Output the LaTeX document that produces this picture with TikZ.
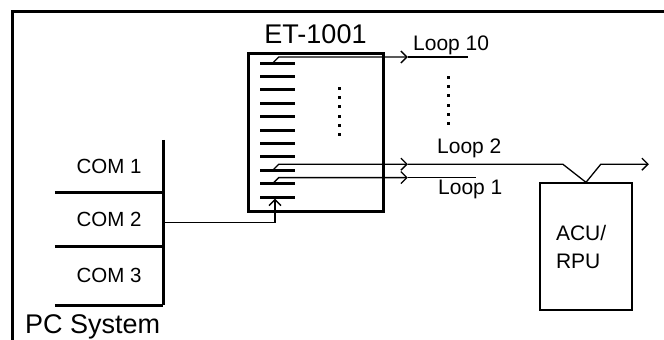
\documentclass[tikz,border=0pt]{standalone}
\usepackage{fontspec}
\setmainfont{Liberation Sans}
\usetikzlibrary{positioning, arrows.meta, calc}

\begin{document}
\begin{tikzpicture}[
    x=1pt, y=-1pt,
    >={Straight Barb[length=6pt, width=12pt]},
    % --- Line styles ---
    thk/.style={line width=3pt},
    thn/.style={line width=1.3pt},
    arr/.style={thn, ->},
    % --- Node styles ---
    bar/.style={fill=black, inner sep=0pt, minimum width=35pt, minimum height=3pt},
    comcell/.style={inner sep=0pt, minimum width=108pt, font=\fontsize{20.5}{24}\selectfont},
    lbl/.style={inner sep=0pt, font=\fontsize{21}{24}\selectfont},
    big/.style={inner sep=0pt, font=\fontsize{27}{30}\selectfont},
]

\useasboundingbox (0,0) rectangle (664,340);

% =============================================
% OUTER FRAME (top and left edges only)
% =============================================

\draw[thk] (12,340) -- (12,11) -- (664,11);

% =============================================
% PC SYSTEM
% =============================================

\node[comcell, minimum height=52pt] (com1) at (109,166) {COM 1};
\node[comcell, minimum height=54pt, below=0pt of com1] (com2) {COM 2};
\node[comcell, minimum height=58pt, below=0pt of com2] (com3) {COM 3};

\draw[thk] (com1.north east) -- (com3.south east);
\draw[thk] (com1.south west) -- (com1.south east);
\draw[thk] (com2.south west) -- (com2.south east);
\draw[thk] (com3.south west) -- (com3.south east);

\node[big, anchor=base west] (pc) at (25,333) {PC System};

% =============================================
% ET-1001 BOX
% =============================================

\node[draw, thk, minimum width=135pt, minimum height=158pt] (et) at (315.5,132) {};
\node[big, above=8pt of et] (etname) {ET-1001};

% Terminal bars
\foreach \i in {1,...,11}
    \node[bar] (bar\i) at (277.5, {63+13.4*(\i-1)}) {};

% Dots inside and outside the box
\foreach \k in {0,...,5} {
    \fill (338, {87+9.2*\k}) rectangle ++(3,3);
    \fill (447, {76+9.2*\k}) rectangle ++(3,3);
}

% =============================================
% ACU / RPU
% =============================================

\node[draw, thn, minimum width=92pt, minimum height=127pt, text width=60pt,
      align=left, font=\fontsize{21}{28}\selectfont] (acu) at (586,246.5) {ACU/\\RPU};

% =============================================
% LOOPS
% =============================================

\coordinate (l10mid) at ($(bar1.west)+(148,-6)$);
\coordinate (l10end) at ($(l10mid)+(60,0)$);
\coordinate (l2mid) at ($(bar9.west)+(148,-6)$);
\coordinate (l2bend) at ($(l2mid)+(155,0)$);
\coordinate (l2up) at ($(l2mid)+(193,0)$);
\coordinate (l2end) at ($(l2mid)+(241,0)$);
\coordinate (l1mid) at ($(bar10.west)+(148,-6)$);
\coordinate (l1end) at ($(l1mid)+(68,0)$);

% Loop 10
\draw[arr] ($(bar1.west)+(13,0)$) -- ++(6,-6) -- (l10mid);
\draw[thn] (l10mid) -- (l10end);

% Loop 2
\draw[arr] ($(bar9.west)+(13,0)$) -- ++(6,-6) -- (l2mid);
\draw[arr] (l2mid) -- (l2bend) -- (acu.north) -- (l2up) -- (l2end);
\fill (acu.north) circle (1.5pt);

% Loop 1
\draw[arr] ($(bar10.west)+(13,0)$) -- ++(6,-6) -- (l1mid);
\draw[thn] (l1mid) -- (l1end);

\node[lbl, anchor=base west] (lbl10) at (413,50) {Loop 10};
\node[lbl, anchor=base west] (lbl2) at (437,153) {Loop 2};
\node[lbl, anchor=base west] (lbl1) at (438,194) {Loop 1};

% COM 2 to ET-1001
\draw[arr] ([yshift=-3pt]com2.east) -| ([xshift=-2.5pt]bar11.south);

\end{tikzpicture}
\end{document}
